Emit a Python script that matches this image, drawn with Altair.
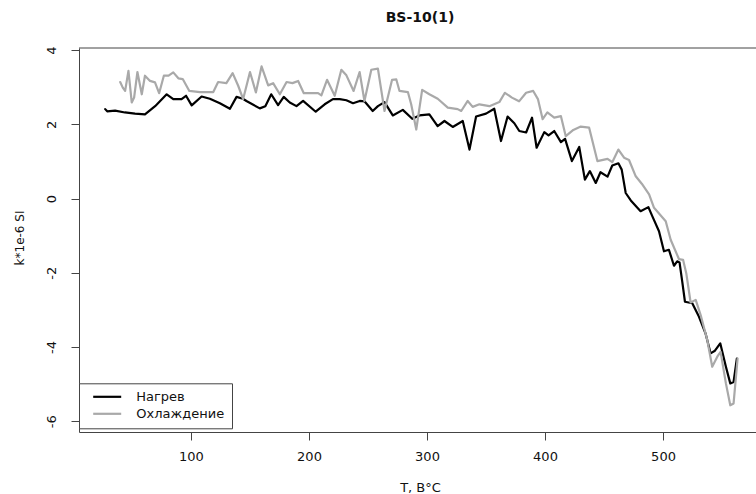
import altair as alt
import pandas as pd

# Heating run: temperature (°C) and susceptibility (k * 1e-6 SI)
heat_t = [27.3, 29, 35.7, 44, 52.6, 61, 69.6, 79.4, 85, 92, 95.8, 100.6, 109, 116, 124.5,
          133, 138.6, 144, 147, 158.3, 163, 168, 173.8, 178.6, 183.7, 189.4, 195, 205.7,
          213.3, 220.3, 226, 231.7, 237.3, 243, 247, 254, 258.4, 264, 271, 279.5, 287.5,
          293.6, 302, 309, 314.8, 321.8, 330.3, 336, 341.6, 350, 357, 362.7, 368.3, 374,
          378.2, 384, 389, 392.9, 399.4, 403, 407.8, 413.5, 417, 422.8, 429, 433.8, 438,
          443, 447, 453, 457, 462.2, 465, 468.4, 472.7, 481, 487.6, 491, 496.6, 500.8, 505,
          509.3, 512, 514, 516.3, 518.6, 524.8, 530.4, 536, 540.3, 544, 548.5, 553.3, 557,
          559.8, 562.6]
heat_k = [2.41, 2.35, 2.37, 2.32, 2.29, 2.27, 2.49, 2.81, 2.68, 2.68, 2.77, 2.51, 2.75, 2.69,
          2.57, 2.42, 2.74, 2.69, 2.63, 2.43, 2.49, 2.81, 2.52, 2.74, 2.59, 2.49, 2.63, 2.34,
          2.54, 2.68, 2.68, 2.65, 2.57, 2.63, 2.62, 2.36, 2.49, 2.60, 2.24, 2.39, 2.15, 2.24,
          2.27, 1.95, 2.09, 1.93, 2.09, 1.32, 2.21, 2.29, 2.42, 1.55, 2.21, 2.03, 1.82, 1.78,
          2.18, 1.37, 1.79, 1.70, 1.82, 1.52, 1.61, 1.01, 1.39, 0.51, 0.74, 0.42, 0.71, 0.59,
          0.89, 0.95, 0.78, 0.15, -0.05, -0.34, -0.23, -0.48, -0.88, -1.42, -1.38, -1.81,
          -1.69, -1.72, -2.24, -2.78, -2.82, -3.18, -3.63, -4.17, -4.10, -3.90, -4.53, -4.98,
          -4.94, -4.31]

# Cooling run
cool_t = [40, 42.2, 44.2, 47, 49.8, 51.8, 54.6, 58.3, 61, 65.3, 69.5, 73, 77, 81, 85, 89.3,
          93, 98.6, 107.6, 118.9, 123, 130, 135.3, 140, 144.2, 150, 155, 159.8, 165.4, 169.6,
          175.3, 181, 186, 190.8, 195.6, 207.7, 210.5, 215.3, 221.8, 227.4, 231.7, 237.8,
          242.9, 247, 252.8, 258.4, 264, 270.4, 274, 276.7, 283.8, 286.6, 290.9, 295.9, 302,
          309.1, 317.6, 326, 329, 334.5, 338.7, 344.4, 352.9, 361.3, 366, 372, 378, 384, 390,
          394, 398, 402, 407.8, 413.5, 417.6, 424, 430.3, 437.4, 444.4, 453, 457, 462.2, 467,
          471.2, 476.9, 482, 488.2, 492.4, 502.3, 506.5, 513.5, 517, 519.7, 523.4, 527.7,
          531.9, 537.5, 541.7, 546, 548.8, 553.3, 557, 559.8, 563.2]
cool_k = [3.14, 2.99, 2.90, 3.44, 2.59, 2.72, 3.41, 2.81, 3.31, 3.17, 3.13, 2.84, 3.31, 3.31,
          3.40, 3.24, 3.22, 2.90, 2.87, 2.87, 3.14, 3.11, 3.38, 3.04, 2.68, 3.41, 2.86, 3.56,
          3.05, 3.11, 2.81, 3.14, 3.11, 3.17, 2.84, 2.84, 2.78, 3.20, 2.77, 3.47, 3.32, 2.90,
          3.41, 2.63, 3.47, 3.50, 2.36, 3.20, 3.21, 2.90, 2.87, 2.54, 1.86, 2.93, 2.81, 2.69,
          2.45, 2.41, 2.36, 2.63, 2.47, 2.54, 2.49, 2.60, 2.85, 2.72, 2.62, 2.85, 2.90, 2.68,
          2.14, 2.32, 2.18, 2.22, 1.68, 1.85, 1.94, 1.91, 1.01, 1.07, 0.98, 1.32, 1.10, 1.04,
          0.60, 0.40, 0.11, -0.25, -0.61, -1.11, -1.63, -1.65, -2.01, -2.80, -2.73, -3.14,
          -3.81, -4.53, -4.26, -4.13, -4.98, -5.57, -5.52, -4.31]

series_names = ["Нагрев", "Охлаждение"]
series_colors = ["#000000", "#a9a9a9"]

x_ticks = [100, 200, 300, 400, 500]
y_ticks = [-6, -4, -2, 0, 2, 4]

FONT = "DejaVu Sans"
INK = "#111111"
FRAME = "#444444"

df = pd.concat([
    pd.DataFrame({"T": heat_t, "k": heat_k, "series": series_names[0],
                  "ord": range(len(heat_t))}),
    pd.DataFrame({"T": cool_t, "k": cool_k, "series": series_names[1],
                  "ord": range(len(cool_t))}),
], ignore_index=True)

W, H = 677, 384

lines = alt.Chart(df).mark_line(strokeWidth=2.2, strokeJoin="round", strokeCap="round").encode(
    x=alt.X("T:Q",
            scale=alt.Scale(domain=[5.1, 578.8], nice=False, zero=False),
            axis=alt.Axis(values=x_ticks, title="T, B°C", grid=False,
                          tickSize=8, tickColor=FRAME, domainColor=FRAME,
                          labelFont=FONT, labelFontSize=13, labelColor=INK,
                          labelBaseline="alphabetic", labelPadding=20, labelFlush=False,
                          titleFont=FONT, titleFontSize=13, titleFontWeight="normal",
                          titleColor=INK, titleX=341, titleY=59.5, titleAlign="center",
                          titleBaseline="alphabetic")),
    y=alt.Y("k:Q",
            scale=alt.Scale(domain=[-6.29, 4.057], nice=False, zero=False),
            axis=alt.Axis(values=y_ticks, title="k*1e-6 SI", grid=False,
                          tickSize=8, tickColor=FRAME, domainColor=FRAME,
                          labelExpr="'' + datum.value",
                          labelFont=FONT, labelFontSize=13, labelColor=INK,
                          labelAngle=270, labelAlign="center", labelBaseline="alphabetic",
                          labelPadding=16, labelFlush=False,
                          titleFont=FONT, titleFontSize=12, titleFontWeight="normal",
                          titleColor=INK, titleAngle=270, titleX=-56, titleY=189.5,
                          titleAlign="center", titleBaseline="alphabetic")),
    color=alt.Color("series:N",
                    scale=alt.Scale(domain=series_names, range=series_colors),
                    legend=alt.Legend(title=None, orient="none", legendX=0, legendY=335.3,
                                      direction="vertical", padding=7,
                                      strokeColor=FRAME, fillColor="white",
                                      symbolType="M0.14,0H5.74", symbolSize=100,
                                      symbolStrokeWidth=2.2, labelOffset=37.3,
                                      labelFont=FONT, labelFontSize=13, labelColor=INK,
                                      rowPadding=3)),
    order="ord:Q",
)

# top edge of the plot frame
top_edge = alt.Chart(alt.Data(values=[{}])).mark_rule(color=FRAME, strokeWidth=1).encode(
    x=alt.value(0), x2=alt.value(W), y=alt.value(0)
)

chart = alt.layer(lines, top_edge).properties(
    width=W, height=H,
    padding={"left": 79, "top": 48, "right": 0, "bottom": 62},
    autosize=alt.AutoSizeParams(type="none"),
    title=alt.Title("BS-10(1)", font=FONT, fontSize=14, fontWeight="bold", color=INK,
                    anchor="middle", baseline="alphabetic", offset=10, dx=2.5),
).configure_view(stroke=None)

chart.save("out.html", embed_options={"renderer": "svg", "actions": False})
